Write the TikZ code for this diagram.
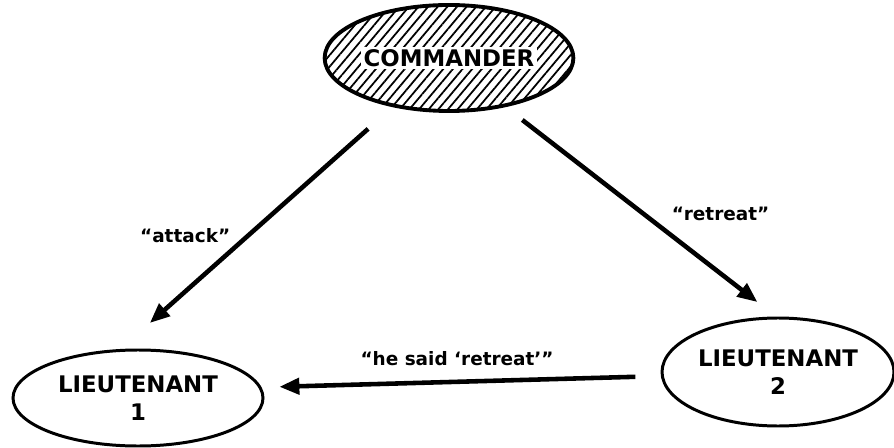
\documentclass[tikz,border=0pt]{standalone}
\usepackage{fontspec}
\setmainfont{DejaVu Sans}
\usetikzlibrary{positioning, shapes.geometric, arrows.meta, patterns.meta}
\setlength{\fboxsep}{1.5pt}

\begin{document}
\begin{tikzpicture}[
    every node/.style={align=center},
    chief/.style  ={ellipse, draw, line width=2.2pt, inner sep=0pt, outer sep=0pt,
                    minimum width=49.6mm, minimum height=21.2mm,
                    pattern={Lines[angle=50, distance=4.2pt, line width=1pt]},
                    font=\fontsize{13}{15}\selectfont\bfseries},
    officer/.style={ellipse, draw, line width=1.7pt, inner sep=0pt, outer sep=0pt,
                    font=\fontsize{13}{16}\selectfont\bfseries},
    order/.style  ={font=\fontsize{10.5}{12}\selectfont\bfseries},
    arrow/.style  ={-{Triangle[length=4mm, width=3.2mm]}, line width=2.6pt},
    on grid
]
\useasboundingbox (0,0) rectangle (17.88,-8.96);

% ===== generals =====
\node[chief] (cmd) at (8.98,-1.16) {\colorbox{white}{COMMANDER}};
\node[officer, minimum width=50mm, minimum height=19.2mm,
      below left=6.8cm and 6.22cm of cmd]  (lt1) {LIEUTENANT\\1};
\node[officer, minimum width=46.4mm, minimum height=21.6mm,
      below right=6.28cm and 6.58cm of cmd] (lt2) {LIEUTENANT\\2};

% ===== messages =====
\draw[arrow, shorten <=7mm, shorten >=8.3mm] (cmd.221) -- node[order, pos=.53, left=2mm] {``attack''} (lt1.112);
\draw[arrow, shorten <=4.7mm, shorten >=5.2mm] (cmd.319) -- node[order, pos=.51, right=4mm] {``retreat''} (lt2.90);
\draw[arrow, shorten <=5.4mm, shorten >=3.9mm] (lt2.182) -- node[order, pos=.51, above=1.5mm] {``he said `retreat'{}''} (lt1.5);

\end{tikzpicture}
\end{document}
